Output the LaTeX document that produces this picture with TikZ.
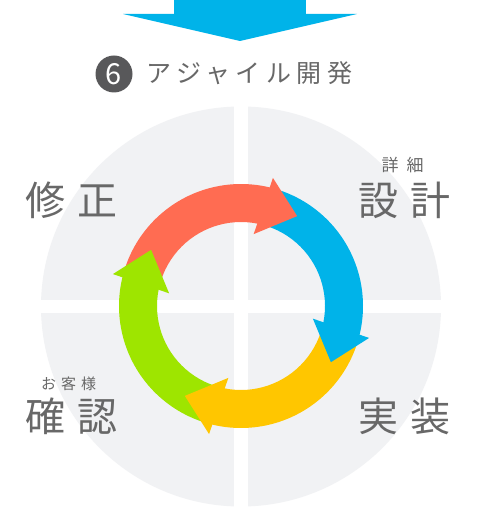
\documentclass[tikz,border=0pt]{standalone}
\usepackage{fontspec}
\newfontfamily\jpfont{Noto Sans CJK JP}
\definecolor{arrowblue}{HTML}{00B3E9}
\definecolor{ringred}{HTML}{FF6C52}
\definecolor{ringyellow}{HTML}{FFC600}
\definecolor{ringgreen}{HTML}{9EE500}
\definecolor{bggray}{HTML}{F1F2F4}
\definecolor{txtgray}{HTML}{686868}
\definecolor{badgegray}{HTML}{58585A}
\newcommand\ringbody[3]{\fill[#1] (#2:122) arc[start angle=#2, end angle=#3, radius=122] -- (#3:84) arc[start angle=#3, end angle=#2, radius=84] -- cycle;}
\newcommand\ringhead[2]{\fill[#1] ({#2+2}:73) -- ({#2-2}:132) -- ({#2-20}:106) -- cycle;}
\begin{document}
\begin{tikzpicture}[x=1bp,y=1bp,
  biglbl/.style={inner sep=0pt, anchor=west, text=txtgray, font=\jpfont\addfontfeatures{LetterSpace=30}\fontsize{40bp}{48bp}\selectfont},
  smalllbl/.style={inner sep=0pt, anchor=west, text=txtgray},
  titlelbl/.style={inner sep=0pt, anchor=west, text=txtgray, font=\jpfont\addfontfeatures{LetterSpace=22}\fontsize{25bp}{30bp}\selectfont}]
\useasboundingbox (0,0) rectangle (485,-510);
\fill[white] (0,0) rectangle (485,-510);
% top arrow
\fill[arrowblue] (174,0) rectangle (306,-14.5);
\fill[arrowblue] (123,-14) -- (357,-14) -- (240,-41) -- cycle;
% title
\node[circle, fill=badgegray, minimum size=37bp, inner sep=0pt, text=white, font=\jpfont\fontsize{29bp}{34bp}\selectfont] (badge) at (114,-74) {6};
\node[titlelbl] (title) at (146.5,-73) {アジャイル開発};
% background disc and cross
\fill[bggray] (241,-306.5) circle[radius=200];
\fill[white] (234.3,-100) rectangle (248.3,-510);
\fill[white] (30,-300) rectangle (452,-313.3);
% ring
\begin{scope}[shift={(241,-306)}]
\ringbody{ringred}{166}{75}
\ringbody{arrowblue}{76}{-15}
\ringbody{ringyellow}{-14}{-105}
\ringbody{ringgreen}{-104}{-195}
\ringhead{ringred}{78}
\ringhead{arrowblue}{-12}
\ringhead{ringyellow}{-102}
\ringhead{ringgreen}{168}
\end{scope}
% labels
\node[biglbl] (shusei) at (25.5,-200) {修正};
\node[biglbl] (sekkei) at (358.5,-200) {設計};
\node[smalllbl, font=\jpfont\addfontfeatures{LetterSpace=47}\fontsize{17bp}{20bp}\selectfont] (shousai) at (381.5,-165) {詳細};
\node[biglbl] (jissou) at (358.5,-416) {実装};
\node[biglbl] (kakunin) at (25.5,-416) {確認};
\node[smalllbl, font=\jpfont\addfontfeatures{LetterSpace=33}\fontsize{15bp}{18bp}\selectfont] (okyaku) at (41,-383.5) {お客様};
\end{tikzpicture}
\end{document}
